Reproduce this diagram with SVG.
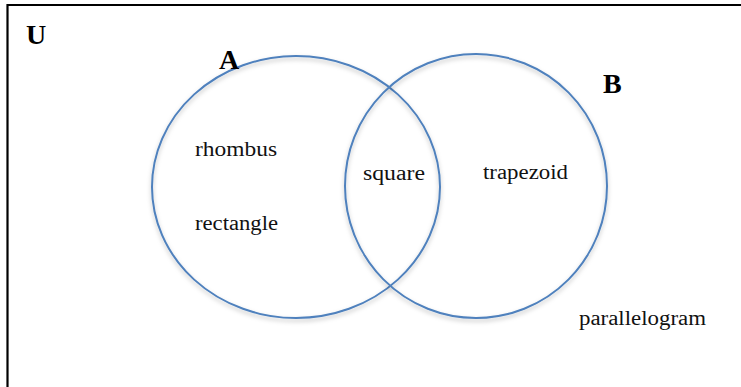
<svg xmlns="http://www.w3.org/2000/svg" width="741" height="387" viewBox="0 0 741 387">
<style>
.set{fill:none;stroke:#4F81BD;stroke-width:2;filter:url(#sh)}
.lbl{font-family:"Liberation Serif","Times New Roman",serif;font-size:20px;fill:#111}
.big{font-family:"Liberation Serif","Times New Roman",serif;font-size:28px;font-weight:bold;fill:#000}
</style>
<defs>
<filter id="sh" x="-10%" y="-10%" width="120%" height="125%">
<feDropShadow dx="0" dy="2.5" stdDeviation="2" flood-color="#000" flood-opacity="0.25"/>
</filter>
</defs>
<rect width="741" height="387" fill="#fff"/>
<g id="universe">
<path d="M7.5,387 V5 H741" fill="none" stroke="#000" stroke-width="2.2"/>
<text class="big" x="26" y="44">U</text>
<text class="lbl" x="579" y="325" textLength="127" lengthAdjust="spacingAndGlyphs">parallelogram</text>
</g>
<g id="set-A">
<ellipse class="set" cx="296" cy="187" rx="144" ry="131"/>
<text class="big" x="219" y="69">A</text>
<text class="lbl" x="195" y="156" textLength="82" lengthAdjust="spacingAndGlyphs">rhombus</text>
<text class="lbl" x="195" y="230" textLength="83" lengthAdjust="spacingAndGlyphs">rectangle</text>
</g>
<g id="set-B">
<ellipse class="set" cx="476" cy="186" rx="131" ry="132"/>
<text class="big" x="603" y="93">B</text>
<text class="lbl" x="483" y="179" textLength="85" lengthAdjust="spacingAndGlyphs">trapezoid</text>
</g>
<g id="intersection">
<text class="lbl" x="363" y="180" textLength="62" lengthAdjust="spacingAndGlyphs">square</text>
</g>
<g id="connectors"/>
</svg>
